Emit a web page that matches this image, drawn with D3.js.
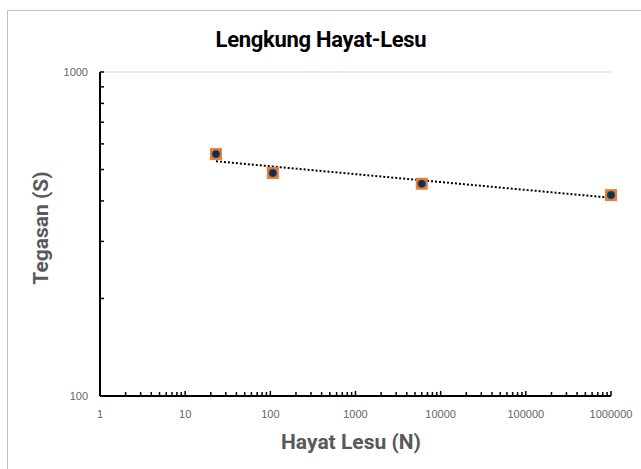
<!DOCTYPE html>
<html><head><meta charset="utf-8">
<script src="https://cdn.jsdelivr.net/npm/d3@7"></script>
<style>body{margin:0;background:#fff}</style>
</head><body>
<svg id="c" width="641" height="469"></svg>
<script>
const cycles = [23, 107, 6000, 1000000];
const stress = [558, 488, 452, 417];
const xTickLabels = ["1","10","100","1000","10000","100000","1000000"];
const yTickLabels = ["100","1000"];

const svg = d3.select("#c");
const W = 641, H = 469;
svg.append("rect").attr("x",7.5).attr("y",10.5).attr("width",W).attr("height",H)
  .attr("fill","#fff").attr("stroke","#bfbfbf");

const x = d3.scaleLog().domain([1,1e6]).range([100,611]);
const y = d3.scaleLog().domain([100,1000]).range([396,72]);

// gridline at 1000
svg.append("line").attr("x1",x(1)).attr("x2",x(1e6)).attr("y1",y(1000)).attr("y2",y(1000))
  .attr("stroke","#d9d9d9").attr("stroke-width",1);

// title
svg.append("text").attr("x",321).attr("y",47).attr("text-anchor","middle")
  .attr("font-family","Roboto, sans-serif").attr("letter-spacing","-0.3")
  .attr("font-weight","bold").attr("font-size",22).attr("fill","#000")
  .text("Lengkung Hayat-Lesu");

// axis titles
svg.append("text").attr("x",351).attr("y",449).attr("text-anchor","middle")
  .attr("font-family","Roboto, sans-serif").attr("font-weight","bold")
  .attr("font-size",21).attr("fill","#595959").text("Hayat Lesu (N)");
svg.append("text").attr("transform","translate(48,228) rotate(-90)").attr("text-anchor","middle")
  .attr("font-family","Roboto, sans-serif").attr("font-weight","bold")
  .attr("font-size",21).attr("fill","#595959").text("Tegasan (S)");

// minor ticks
const xTicks = [];
for (let d=1; d<1e6; d*=10) for (let m=1; m<10; m++) xTicks.push(d*m);
xTicks.push(1e6);
const yTicks = [];
for (let m=1; m<=10; m++) yTicks.push(100*m);

const g = svg.append("g");
g.selectAll("line.xt").data(xTicks).join("line")
  .attr("x1",d=>x(d)).attr("x2",d=>x(d)).attr("y1",396).attr("y2",d=>Math.log10(d)%1===0?391:392)
  .attr("stroke","#000").attr("stroke-width",1.5);
g.selectAll("line.yt").data(yTicks).join("line")
  .attr("y1",d=>y(d)).attr("y2",d=>y(d)).attr("x1",100).attr("x2",104)
  .attr("stroke","#000").attr("stroke-width",1.5);

// axis lines
svg.append("line").attr("x1",100).attr("x2",x(1e6)).attr("y1",396).attr("y2",396).attr("stroke","#000").attr("stroke-width",2);
svg.append("line").attr("x1",100).attr("x2",100).attr("y1",y(1000)).attr("y2",396).attr("stroke","#000").attr("stroke-width",2);

// tick labels
const lab = {"font-family":"'Liberation Sans', sans-serif","font-size":11,"fill":"#666"};
svg.selectAll("text.xl").data(xTickLabels).join("text")
  .attr("x",d=>x(+d)).attr("y",418).attr("text-anchor","middle")
  .attr("font-family",lab["font-family"]).attr("font-size",lab["font-size"]).attr("fill",lab.fill).text(d=>d);
svg.selectAll("text.yl").data(yTickLabels).join("text")
  .attr("x",88).attr("y",d=>y(+d)+4).attr("text-anchor","end")
  .attr("font-family",lab["font-family"]).attr("font-size",lab["font-size"]).attr("fill",lab.fill).text(d=>d);

// power trendline (least squares in log-log)
const lx = cycles.map(Math.log10), ly = stress.map(Math.log10);
const mx = d3.mean(lx), my = d3.mean(ly);
const b = d3.sum(lx.map((v,i)=>(v-mx)*(ly[i]-my))) / d3.sum(lx.map(v=>(v-mx)**2));
const a = my - b*mx;
const tl = d3.range(0,101).map(i=>{const lv = lx[0] + (lx[3]-lx[0])*i/100; return [10**lv, 10**(a+b*lv)];});
svg.append("path").datum(tl)
  .attr("d", d3.line().x(d=>x(d[0])).y(d=>y(d[1])))
  .attr("fill","none").attr("stroke","#000").attr("stroke-width",2).attr("stroke-dasharray","2,2");

// markers
const pts = cycles.map((c,i)=>[c,stress[i]]);
svg.selectAll("rect.m").data(pts).join("rect")
  .attr("x",d=>x(d[0])-6).attr("y",d=>y(d[1])-6).attr("width",12).attr("height",12)
  .attr("fill","#ED7D31");
svg.selectAll("circle.m").data(pts).join("circle")
  .attr("cx",d=>x(d[0])).attr("cy",d=>y(d[1])).attr("r",3.8)
  .attr("fill","#0f2f4f").attr("stroke","#1f4e79").attr("stroke-width",0.8);
</script>
</body></html>
